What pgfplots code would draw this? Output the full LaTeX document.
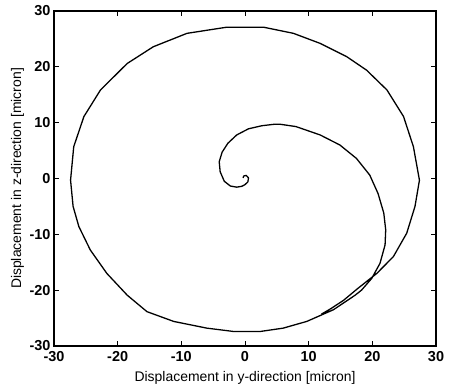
\documentclass[border=0pt]{standalone}
\usepackage{fontspec}
\setmainfont{Liberation Sans}
\usepackage{pgfplots}
\pgfplotsset{compat=1.18}
\begin{document}
\begin{tikzpicture}
\begin{axis}[
  scale only axis, width=382bp, height=335bp,
  xmin=-30, xmax=30, ymin=-30, ymax=30,
  xtick={-30,-20,-10,0,10,20,30},
  ytick={-30,-20,-10,0,10,20,30},
  tick align=inside, major tick length=5bp,
  xtick pos=both, ytick pos=both,
  xticklabel pos=bottom, yticklabel pos=left,
  axis line style={line width=1.1pt},
  every tick/.style={black, line width=1pt},
  /pgf/number format/assume math mode=true,
  ticklabel style={font=\fontsize{14.5}{14.5}\selectfont\bfseries},
  xticklabel style={yshift=-2bp},
  yticklabel style={xshift=0bp},
  label style={font=\fontsize{14}{14}\selectfont},
  xlabel={Displacement in y-direction [micron]},
  ylabel={Displacement in z-direction [micron]},
  xlabel style={at={(axis description cs:0.5,-0.106)}, anchor=base},
  ylabel style={at={(axis description cs:-0.0955,0.5)}, anchor=center},
]
\addplot[black, line width=1.3pt, line join=round] coordinates {
(-0.3,0.1) (-0.2,0.45) (0.2,0.55) (0.55,0.1) (0.45,-0.6) (0,-1.1) (-0.5,-1.4)
(-1.3,-1.55) (-2.3,-1.35) (-3.25,-0.5) (-3.9,1.2) (-4.05,3.0) (-3.6,4.7)
(-2.7,6.3) (-1.3,7.8) (0.55,8.9) (2.65,9.45) (4.5,9.7) (5.6,9.7) (8.0,9.3)
(11.8,7.8) (14.9,6.0) (17.5,3.6) (19.6,0.6) (20.9,-2.7) (21.8,-6.2) (22.1,-9.2)
(22.0,-11.9) (21.2,-15.2) (19.9,-17.9) (18.3,-20.0) (17.3,-20.9) (16.0,-21.9)
(13.9,-23.5) (9.7,-25.6) (6.0,-26.8) (2.4,-27.4) (-1.8,-27.4) (-6.0,-26.8)
(-11.2,-25.6) (-15.4,-23.85) (-18.5,-20.9) (-21.7,-17.0) (-24.3,-12.8)
(-26.1,-8.6) (-27.0,-5.0) (-27.4,-0.3) (-26.9,5.7) (-25.3,11.1) (-22.7,15.85)
(-18.5,20.6) (-14.4,23.6) (-9.1,26.0) (-2.85,27.1) (2.9,27.1) (7.6,26.0)
(11.8,24.2) (16.0,21.8) (19.1,19.4) (22.3,15.85) (24.9,11.1) (26.45,5.7)
(27.4,-0.3) (26.7,-5.0) (25.4,-9.8) (23.3,-14.0) (20.7,-17.0) (17.6,-19.8)
(15.5,-21.8) (13.5,-23.3) (12.0,-24.3)
};
\end{axis}
\path ([xshift=-54bp,yshift=-41bp]current axis.south west) rectangle ([xshift=13bp,yshift=11bp]current axis.north east);
\end{tikzpicture}
\end{document}
